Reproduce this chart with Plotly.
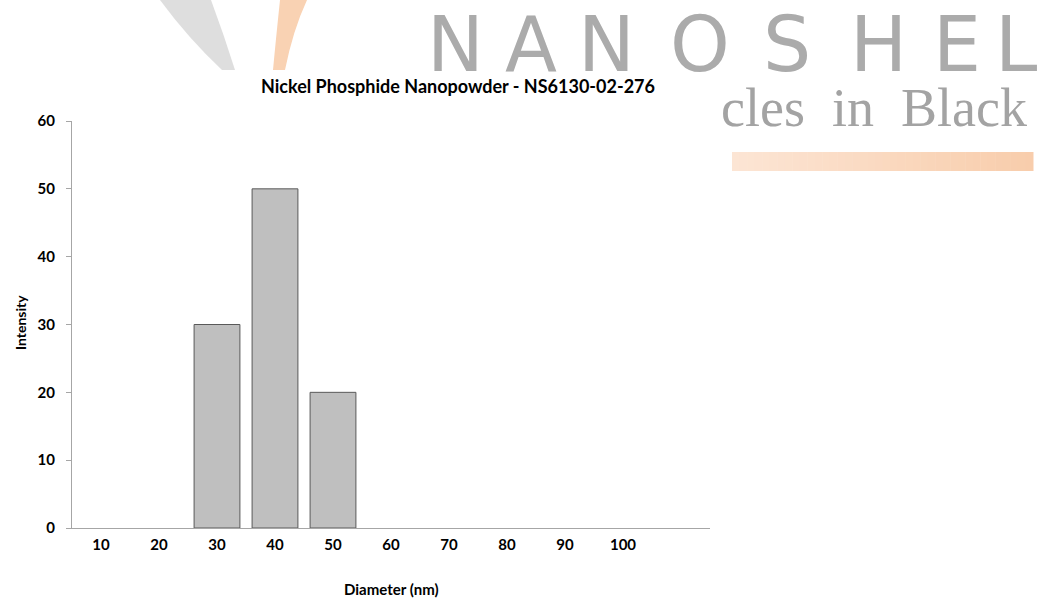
import plotly.graph_objects as go

# ==========================================
# Data
# ==========================================

diameter_labels = ["10", "20", "30", "40", "50", "60", "70", "80", "90", "100", ""]
intensity = [0, 0, 30, 50, 20, 0, 0, 0, 0, 0, 0]

y_ticks = [0, 10, 20, 30, 40, 50, 60]

W, H = 1037, 601


def px(x):
    return x / W


def py(y):
    return 1 - y / H


# ==========================================
# Figure
# ==========================================

fig = go.Figure()

fig.add_trace(go.Bar(
    x=list(range(len(diameter_labels))),
    y=intensity,
    width=0.79,
    marker=dict(
        color="#bfbfbf",
        # no outline on empty bins (Excel draws nothing there)
        line=dict(color="#595959", width=[1 if v else 0 for v in intensity]),
    ),
    hoverinfo="y",
))

# --- watermark behind the chart ---
shapes = []

# grey swoosh
shapes.append(dict(
    type="path", xref="paper", yref="paper", layer="below",
    path=(f"M {px(160)},{py(0)} Q {px(188)},{py(38)} {px(222)},{py(70)} "
          f"L {px(235)},{py(70)} Q {px(224)},{py(35)} {px(211)},{py(0)} Z"),
    fillcolor="#dedede", line=dict(width=0),
))
# orange swoosh
shapes.append(dict(
    type="path", xref="paper", yref="paper", layer="below",
    path=(f"M {px(280)},{py(0)} Q {px(276)},{py(38)} {px(273)},{py(70)} "
          f"L {px(285)},{py(70)} Q {px(293)},{py(30)} {px(307)},{py(0)} Z"),
    fillcolor="#f9d2b3", line=dict(width=0),
))

# orange gradient bar (strips)
n_strips = 40
x0, x1 = 732, 1033
c0, c1 = (252, 229, 212), (248, 205, 172)
for i in range(n_strips):
    t = i / (n_strips - 1)
    col = tuple(round(a + (b - a) * t) for a, b in zip(c0, c1))
    sx0 = x0 + (x1 - x0) * i / n_strips
    sx1 = x0 + (x1 - x0) * (i + 1) / n_strips + 0.5
    shapes.append(dict(
        type="rect", xref="paper", yref="paper", layer="below",
        x0=px(sx0), x1=px(sx1), y0=py(171), y1=py(152),
        fillcolor="rgb(%d,%d,%d)" % col, line=dict(width=0),
    ))

annotations = []

# NANOSHEL letters
letters = ["N", "A", "N", "O", "S", "H", "E", "L"]
letter_x = [455, 531, 606, 700, 787, 878, 957, 1016]
for ch, lx in zip(letters, letter_x):
    annotations.append(dict(
        text=ch, x=px(lx), y=py(44), xref="paper", yref="paper",
        xanchor="center", yanchor="middle", showarrow=False,
        font=dict(family="DejaVu Sans", size=76, color="#ababab"),
    ))

annotations.append(dict(
    text="cles\u00a0\u00a0in\u00a0\u00a0Black", x=px(1029), y=py(108),
    xref="paper", yref="paper",
    xanchor="right", yanchor="middle", showarrow=False,
    font=dict(family="Liberation Serif", size=54, color="#a3a3a3"),
))

# chart texts
annotations.append(dict(
    text="<b>Nickel Phosphide Nanopowder - NS6130-02-276</b>",
    x=px(458), y=py(86), xref="paper", yref="paper",
    xanchor="center", yanchor="middle", showarrow=False,
    font=dict(family="Lato", size=18, color="#000000"),
))
annotations.append(dict(
    text="<b>Diameter (nm)</b>", x=px(391), y=py(589), xref="paper", yref="paper",
    xanchor="center", yanchor="middle", showarrow=False,
    font=dict(family="Lato", size=15, color="#000000"),
))
annotations.append(dict(
    text="<b>Intensity</b>", x=px(20), y=py(323), xref="paper", yref="paper",
    xanchor="center", yanchor="middle", showarrow=False, textangle=-90,
    font=dict(family="Lato", size=14, color="#000000"),
))

fig.update_layout(
    width=W, height=H,
    margin=dict(l=0, r=0, t=0, b=0, autoexpand=False),
    paper_bgcolor="white",
    plot_bgcolor="rgba(0,0,0,0)",
    showlegend=False,
    bargap=0.2,
    shapes=shapes,
    annotations=annotations,
    font=dict(family="Lato", color="#000000"),
)

fig.update_xaxes(
    domain=[px(72), px(710)],
    range=[-0.5, len(diameter_labels) - 0.5],
    tickmode="array",
    tickvals=list(range(len(diameter_labels))),
    ticktext=["<b>%s</b>" % t for t in diameter_labels],
    tickfont=dict(family="Lato", size=15, color="#000000"),
    ticks="",
    ticklabelstandoff=3,
    showline=True, linecolor="#a6a6a6", linewidth=1,
    showgrid=False, zeroline=False,
)

fig.update_yaxes(
    domain=[py(528), py(121)],
    range=[0, 60],
    tickmode="array",
    tickvals=y_ticks,
    ticktext=["<b>%d</b>" % v for v in y_ticks],
    tickfont=dict(family="Lato", size=15, color="#000000"),
    ticks="outside", ticklen=5, tickcolor="#a6a6a6",
    ticklabelstandoff=8,
    showline=True, linecolor="#a6a6a6", linewidth=1,
    showgrid=False, zeroline=False,
)

fig.write_html(
    "out.html",
    config={"displayModeBar": False},
    post_script="document.body.style.margin='0';document.body.style.overflow='hidden';",
)
